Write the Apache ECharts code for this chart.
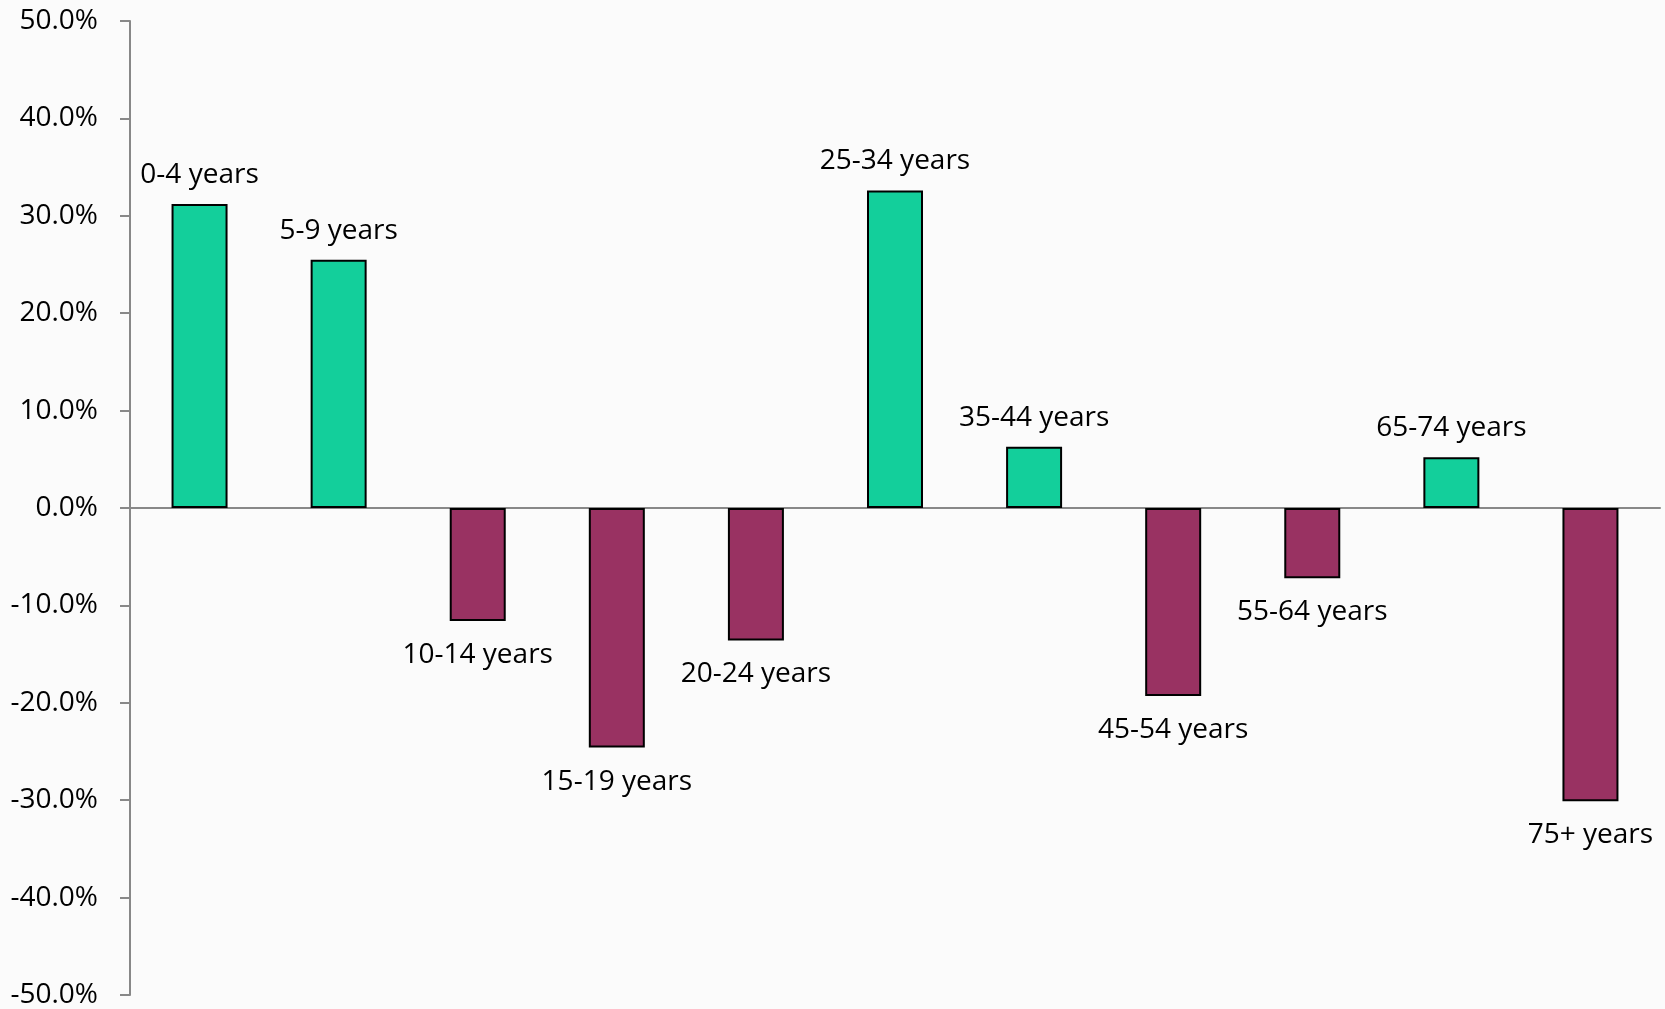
<!DOCTYPE html>
<html>
<head>
<meta charset="utf-8">
<script src="https://cdn.jsdelivr.net/npm/echarts@6/dist/echarts.min.js"></script>
<style>
html,body{margin:0;padding:0;background:#fbfbfb;}
#chart{width:1665px;height:1009px;}
</style>
</head>
<body>
<div id="chart"></div>
<script>
const categories = ['0-4 years','5-9 years','10-14 years','15-19 years','20-24 years','25-34 years','35-44 years','45-54 years','55-64 years','65-74 years','75+ years'];
const values = [31.2, 25.5, -11.6, -24.6, -13.6, 32.6, 6.3, -19.3, -7.2, 5.2, -30.1];
const yTicks = { min: -50, max: 50, interval: 10 };

const chart = echarts.init(document.getElementById('chart'));
const font = '"Open Sans", sans-serif';
const data = values.map((v) => ({
  value: v,
  itemStyle: { color: v >= 0 ? '#13CF9B' : '#993262' },
  label: { position: v >= 0 ? 'top' : 'bottom', distance: v >= 0 ? 15 : 20 }
}));
chart.setOption({
  backgroundColor: '#fbfbfb',
  animation: false,
  grid: { left: 130, right: 5, top: 21, bottom: 13, containLabel: false },
  xAxis: {
    type: 'category',
    data: categories,
    axisLine: { onZero: true, lineStyle: { color: '#888', width: 2 } },
    axisTick: { show: false },
    axisLabel: { show: false },
    splitLine: { show: false }
  },
  yAxis: {
    type: 'value',
    min: yTicks.min, max: yTicks.max, interval: yTicks.interval,
    axisLine: { show: true, lineStyle: { color: '#888', width: 2 } },
    axisTick: { show: true, inside: false, length: 10, lineStyle: { color: '#888', width: 2 } },
    splitLine: { show: false },
    axisLabel: {
      margin: 32, color: '#000', fontFamily: font, fontSize: 28,
      formatter: (v) => v.toFixed(1) + '%'
    }
  },
  series: [{
    type: 'bar',
    data: data,
    barWidth: 56,
    itemStyle: { borderColor: '#000', borderWidth: 2 },
    label: {
      show: true,
      color: '#000', fontFamily: font, fontSize: 28,
      formatter: (p) => categories[p.dataIndex]
    }
  }]
});
</script>
</body>
</html>
